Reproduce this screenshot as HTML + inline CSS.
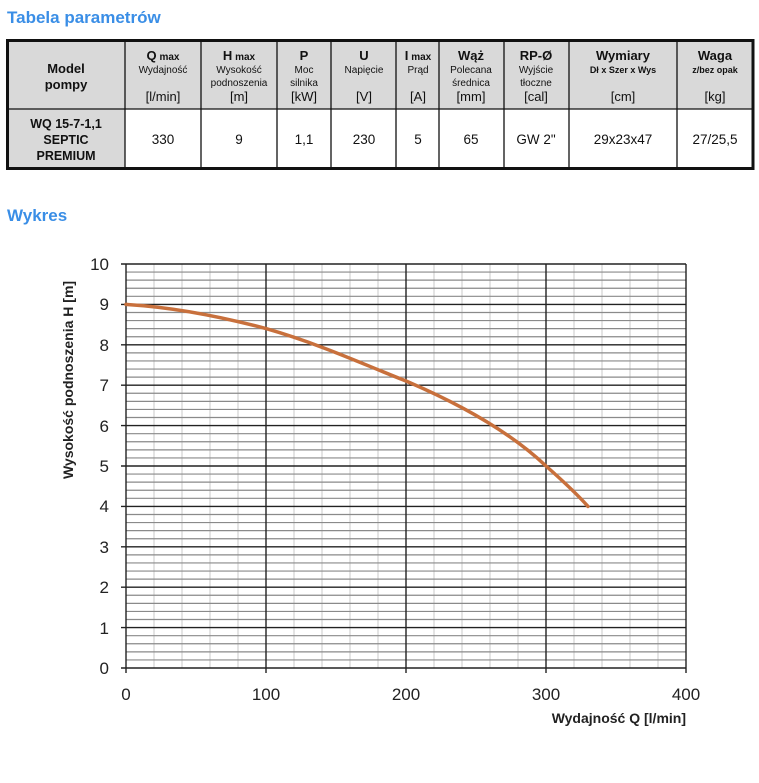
<!DOCTYPE html>
<html><head><meta charset="utf-8"><style>
html,body{margin:0;padding:0;background:#fff;}
body{width:759px;height:778px;position:relative;overflow:hidden;font-family:"Liberation Sans","DejaVu Sans",sans-serif;}
</style></head><body>
<svg width="759" height="778" viewBox="0 0 759 778" xmlns="http://www.w3.org/2000/svg" font-family="Liberation Sans, DejaVu Sans, sans-serif">
<text x="7" y="23" font-size="17" font-weight="bold" fill="#3a8ee6">Tabela parametrów</text>
<text x="7" y="221" font-size="17" font-weight="bold" fill="#3a8ee6">Wykres</text>
<rect x="7" y="40" width="746" height="69" fill="#d9d9d9"/>
<rect x="7" y="109" width="118" height="59" fill="#d9d9d9"/>
<g stroke="#111" stroke-width="1.3">
<line x1="7" y1="109" x2="753" y2="109"/>
<line x1="125" y1="40" x2="125" y2="168"/>
<line x1="201" y1="40" x2="201" y2="168"/>
<line x1="277" y1="40" x2="277" y2="168"/>
<line x1="331" y1="40" x2="331" y2="168"/>
<line x1="396" y1="40" x2="396" y2="168"/>
<line x1="439" y1="40" x2="439" y2="168"/>
<line x1="504" y1="40" x2="504" y2="168"/>
<line x1="569" y1="40" x2="569" y2="168"/>
<line x1="677" y1="40" x2="677" y2="168"/>
</g>
<rect x="7.5" y="40.5" width="745.5" height="128" fill="none" stroke="#111" stroke-width="3"/>
<g fill="#111" text-anchor="middle" font-weight="bold">
<text x="66" y="73" font-size="13">Model</text>
<text x="66" y="89" font-size="13">pompy</text>
<text x="66" y="128" font-size="12.5">WQ 15-7-1,1</text>
<text x="66" y="144" font-size="12.5">SEPTIC</text>
<text x="66" y="160" font-size="12.5">PREMIUM</text>
</g>
<g fill="#111" text-anchor="middle" font-size="10">
<text x="163" y="60"><tspan font-size="13" font-weight="bold">Q</tspan> <tspan font-weight="bold">max</tspan></text>
<text x="163" y="73">Wydajność</text>
<text x="163" y="101" font-size="13">[l/min]</text>
<text x="239" y="60"><tspan font-size="13" font-weight="bold">H</tspan> <tspan font-weight="bold">max</tspan></text>
<text x="239" y="73">Wysokość</text>
<text x="239" y="86">podnoszenia</text>
<text x="239" y="101" font-size="13">[m]</text>
<text x="304" y="60" font-size="13" font-weight="bold">P</text>
<text x="304" y="73">Moc</text>
<text x="304" y="86">silnika</text>
<text x="304" y="101" font-size="13">[kW]</text>
<text x="364" y="60" font-size="13" font-weight="bold">U</text>
<text x="364" y="73">Napięcie</text>
<text x="364" y="101" font-size="13">[V]</text>
<text x="418" y="60"><tspan font-size="13" font-weight="bold">I</tspan> <tspan font-weight="bold">max</tspan></text>
<text x="418" y="73">Prąd</text>
<text x="418" y="101" font-size="13">[A]</text>
<text x="471" y="60" font-size="13" font-weight="bold">Wąż</text>
<text x="471" y="73">Polecana</text>
<text x="471" y="86">średnica</text>
<text x="471" y="101" font-size="13">[mm]</text>
<text x="536" y="60" font-size="13" font-weight="bold">RP-Ø</text>
<text x="536" y="73">Wyjście</text>
<text x="536" y="86">tłoczne</text>
<text x="536" y="101" font-size="13">[cal]</text>
<text x="623" y="60" font-size="13" font-weight="bold">Wymiary</text>
<text x="623" y="73" font-weight="bold" font-size="9">Dł x Szer x Wys</text>
<text x="623" y="101" font-size="13">[cm]</text>
<text x="715" y="60" font-size="13" font-weight="bold">Waga</text>
<text x="715" y="73" font-weight="bold" font-size="9">z/bez opak</text>
<text x="715" y="101" font-size="13">[kg]</text>
</g>
<g fill="#111" text-anchor="middle" font-size="13.5">
<text x="163" y="144">330</text><text x="239" y="144">9</text><text x="304" y="144">1,1</text>
<text x="364" y="144">230</text><text x="418" y="144">5</text><text x="471" y="144">65</text>
<text x="536" y="144">GW 2"</text><text x="623" y="144">29x23x47</text><text x="715" y="144">27/25,5</text>
</g>
<g stroke="#c8c8c8" stroke-width="1">
<line x1="154" y1="264" x2="154" y2="668"/><line x1="182" y1="264" x2="182" y2="668"/><line x1="210" y1="264" x2="210" y2="668"/><line x1="238" y1="264" x2="238" y2="668"/>
<line x1="294" y1="264" x2="294" y2="668"/><line x1="322" y1="264" x2="322" y2="668"/><line x1="350" y1="264" x2="350" y2="668"/><line x1="378" y1="264" x2="378" y2="668"/>
<line x1="434" y1="264" x2="434" y2="668"/><line x1="462" y1="264" x2="462" y2="668"/><line x1="490" y1="264" x2="490" y2="668"/><line x1="518" y1="264" x2="518" y2="668"/>
<line x1="574" y1="264" x2="574" y2="668"/><line x1="602" y1="264" x2="602" y2="668"/><line x1="630" y1="264" x2="630" y2="668"/><line x1="658" y1="264" x2="658" y2="668"/>
</g>
<path stroke="#8a8a8a" stroke-width="1.2" fill="none" d="M126 659.92H686M126 651.84H686M126 643.76H686M126 635.68H686M126 619.52H686M126 611.44H686M126 603.36H686M126 595.28H686M126 579.12H686M126 571.04H686M126 562.96H686M126 554.88H686M126 538.72H686M126 530.64H686M126 522.56H686M126 514.48H686M126 498.32H686M126 490.24H686M126 482.16H686M126 474.08H686M126 457.92H686M126 449.84H686M126 441.76H686M126 433.68H686M126 417.52H686M126 409.44H686M126 401.36H686M126 393.28H686M126 377.12H686M126 369.04H686M126 360.96H686M126 352.88H686M126 336.72H686M126 328.64H686M126 320.56H686M126 312.48H686M126 296.32H686M126 288.24H686M126 280.16H686M126 272.08H686"/>
<g stroke="#222" stroke-width="1.4">
<line x1="121" y1="264" x2="686" y2="264"/><line x1="121" y1="304.4" x2="686" y2="304.4"/><line x1="121" y1="344.8" x2="686" y2="344.8"/><line x1="121" y1="385.2" x2="686" y2="385.2"/><line x1="121" y1="425.6" x2="686" y2="425.6"/><line x1="121" y1="466" x2="686" y2="466"/><line x1="121" y1="506.4" x2="686" y2="506.4"/><line x1="121" y1="546.8" x2="686" y2="546.8"/><line x1="121" y1="587.2" x2="686" y2="587.2"/><line x1="121" y1="627.6" x2="686" y2="627.6"/><line x1="121" y1="668" x2="686" y2="668"/>
<line x1="126" y1="264" x2="126" y2="673"/><line x1="266" y1="264" x2="266" y2="673"/><line x1="406" y1="264" x2="406" y2="673"/><line x1="546" y1="264" x2="546" y2="673"/><line x1="686" y1="264" x2="686" y2="673"/>
</g>
<path d="M126,304.4 C170,307 215,315 266,328.6 C320,344 365,365 406,381 C460,404 510,432 546,466 C563,481 576,493 588,506.4" fill="none" stroke="#c8703c" stroke-width="3.5" stroke-linecap="round"/>
<g fill="#222" font-size="17" text-anchor="end">
<text x="109" y="270">10</text><text x="109" y="310">9</text><text x="109" y="351">8</text><text x="109" y="391">7</text><text x="109" y="432">6</text><text x="109" y="472">5</text><text x="109" y="512">4</text><text x="109" y="553">3</text><text x="109" y="593">2</text><text x="109" y="634">1</text><text x="109" y="674">0</text>
</g>
<g fill="#222" font-size="17" text-anchor="middle">
<text x="126" y="700">0</text><text x="266" y="700">100</text><text x="406" y="700">200</text><text x="546" y="700">300</text><text x="686" y="700">400</text>
</g>
<text x="686" y="723" font-size="14" fill="#222" text-anchor="end" font-weight="bold">Wydajność Q [l/min]</text>
<text transform="translate(73,380) rotate(-90)" font-size="14" fill="#222" text-anchor="middle" font-weight="bold">Wysokość podnoszenia H [m]</text>
</svg>
</body></html>
